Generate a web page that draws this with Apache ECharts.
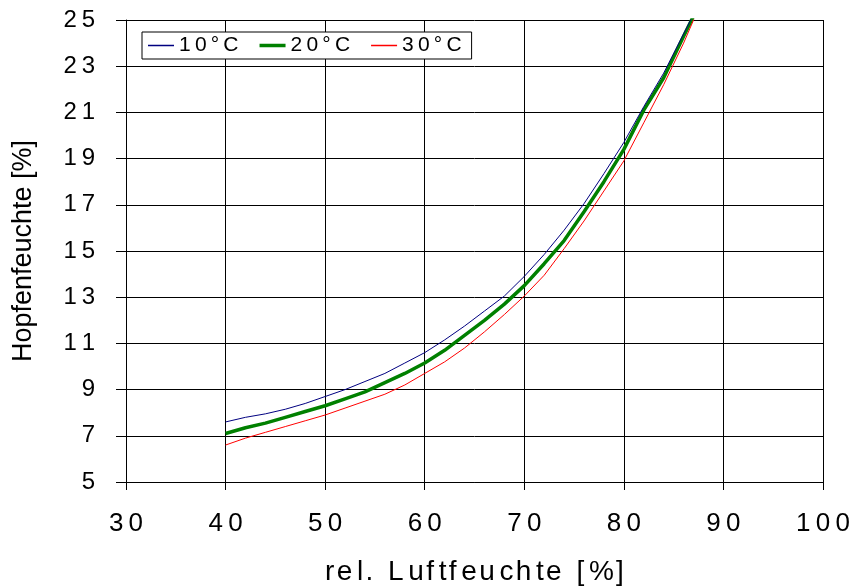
<!DOCTYPE html>
<html>
<head>
<meta charset="utf-8">
<script src="https://cdn.jsdelivr.net/npm/echarts@6/dist/echarts.min.js"></script>
<style>
  html, body { margin: 0; padding: 0; background: #fff; }
  #chart { width: 850px; height: 586px; }
</style>
</head>
<body>
<div id="chart"></div>
<script>
// rel. Luftfeuchte [%] (last point lies above 25 and is clipped at the top)
var rh = [40, 42, 44, 46, 48, 50, 52, 54, 56, 58, 60, 62, 64, 66, 68, 70, 72, 74, 76, 78, 80, 82, 84, 86, 88];
// Hopfenfeuchte [%]
var t10 = [7.6, 7.8, 7.95, 8.15, 8.4, 8.7, 9.0, 9.35, 9.7, 10.15, 10.6, 11.15, 11.75, 12.4, 13.05, 13.9, 14.85, 15.9, 17.05, 18.35, 19.7, 21.25, 22.7, 24.4, 26.1];
var t20 = [7.1, 7.35, 7.55, 7.8, 8.05, 8.3, 8.6, 8.9, 9.3, 9.7, 10.15, 10.7, 11.35, 12.0, 12.7, 13.5, 14.45, 15.45, 16.7, 18.0, 19.4, 21.1, 22.5, 24.3, 26.05];
var t30 = [6.6, 6.9, 7.15, 7.4, 7.65, 7.9, 8.2, 8.5, 8.8, 9.2, 9.7, 10.2, 10.8, 11.5, 12.25, 13.05, 13.95, 15.1, 16.3, 17.6, 18.9, 20.55, 22.2, 24.0, 26.0];
var seriesNames = ['10°C', '20°C', '30°C'];
var colors = ['#000080', '#008000', '#ff0000'];

// the original uses wide character spacing
function spaced(s, sp) {
  return String(s).split('').join(sp || '\u2009');
}
// alternating hair / six-per-em spaces, for a spacing in between
function spacedMid(s) {
  var ch = String(s).split(''), out = ch[0];
  for (var i = 1; i < ch.length; i++) {
    out += (i % 2 ? '\u200A' : '\u2006') + ch[i];
  }
  return out;
}
function pairs(ys) {
  return rh.map(function (x, i) { return [x, ys[i]]; });
}
// legend line icon: bar of thickness t in a 26x14 box (tiny corner marks keep the box size)
function lineIcon(t) {
  var y0 = 7 - t / 2, y1 = 7 + t / 2;
  return 'path://M0,0L0.01,0L0,0.01Z' +
    'M0,' + y0 + 'L26,' + y0 + 'L26,' + y1 + 'L0,' + y1 + 'Z' +
    'M26,14L25.99,14L26,13.99Z';
}

var chart = echarts.init(document.getElementById('chart'));
chart.setOption({
  animation: false,
  textStyle: { fontFamily: 'Liberation Sans, Arial, sans-serif', color: '#000' },
  grid: { left: 126, right: 27, top: 20, bottom: 104, outerBoundsMode: 'none', containLabel: false },
  legend: {
    left: 142,
    top: 32,
    padding: [3, 10, 3, 6],
    itemGap: 21,
    itemWidth: 26,
    itemHeight: 14,
    borderColor: '#000',
    borderWidth: 1,
    backgroundColor: '#fff',
    borderRadius: 0,
    data: [
      { name: seriesNames[0], icon: lineIcon(1.5), itemStyle: { color: colors[0] } },
      { name: seriesNames[1], icon: lineIcon(3.5), itemStyle: { color: colors[1] } },
      { name: seriesNames[2], icon: lineIcon(1.5), itemStyle: { color: colors[2] } }
    ],
    formatter: function (n) { return spaced(n); },
    textStyle: { fontSize: 21, color: '#000', padding: [2, 0, 0, 0] }
  },
  xAxis: {
    type: 'value',
    min: 30,
    max: 100,
    interval: 10,
    name: spacedMid('rel. Luftfeuchte [%]'),
    nameLocation: 'middle',
    nameGap: 76,
    nameTextStyle: { fontSize: 28, color: '#000' },
    axisLine: { show: true, onZero: false, lineStyle: { color: '#000', width: 1 } },
    axisTick: { show: true, length: 8, lineStyle: { color: '#000' } },
    axisLabel: { fontSize: 26, color: '#000', margin: 29, formatter: function (v) { return spaced(v); } },
    splitLine: { show: true, lineStyle: { color: '#000', width: 1 } }
  },
  yAxis: {
    type: 'value',
    min: 5,
    max: 25,
    interval: 2,
    name: 'Hopfenfeuchte [%]',
    nameLocation: 'middle',
    nameGap: 89,
    nameTextStyle: { fontSize: 27, color: '#000' },
    axisLine: { show: true, lineStyle: { color: '#000', width: 1 } },
    axisTick: { show: true, length: 10, lineStyle: { color: '#000' } },
    axisLabel: { fontSize: 24, color: '#000', margin: 31, formatter: function (v) { return spaced(v); } },
    splitLine: { show: true, lineStyle: { color: '#000', width: 1 } }
  },
  series: [
    {
      name: seriesNames[0],
      type: 'line',
      data: pairs(t10),
      symbol: 'none',
      clip: true,
      z: 3,
      lineStyle: { color: colors[0], width: 1 },
      itemStyle: { color: colors[0] }
    },
    {
      name: seriesNames[1],
      type: 'line',
      data: pairs(t20),
      symbol: 'none',
      clip: true,
      z: 2,
      lineStyle: { color: colors[1], width: 3.5 },
      itemStyle: { color: colors[1] }
    },
    {
      name: seriesNames[2],
      type: 'line',
      data: pairs(t30),
      symbol: 'none',
      clip: true,
      z: 2,
      lineStyle: { color: colors[2], width: 1 },
      itemStyle: { color: colors[2] }
    }
  ]
});
</script>
</body>
</html>
